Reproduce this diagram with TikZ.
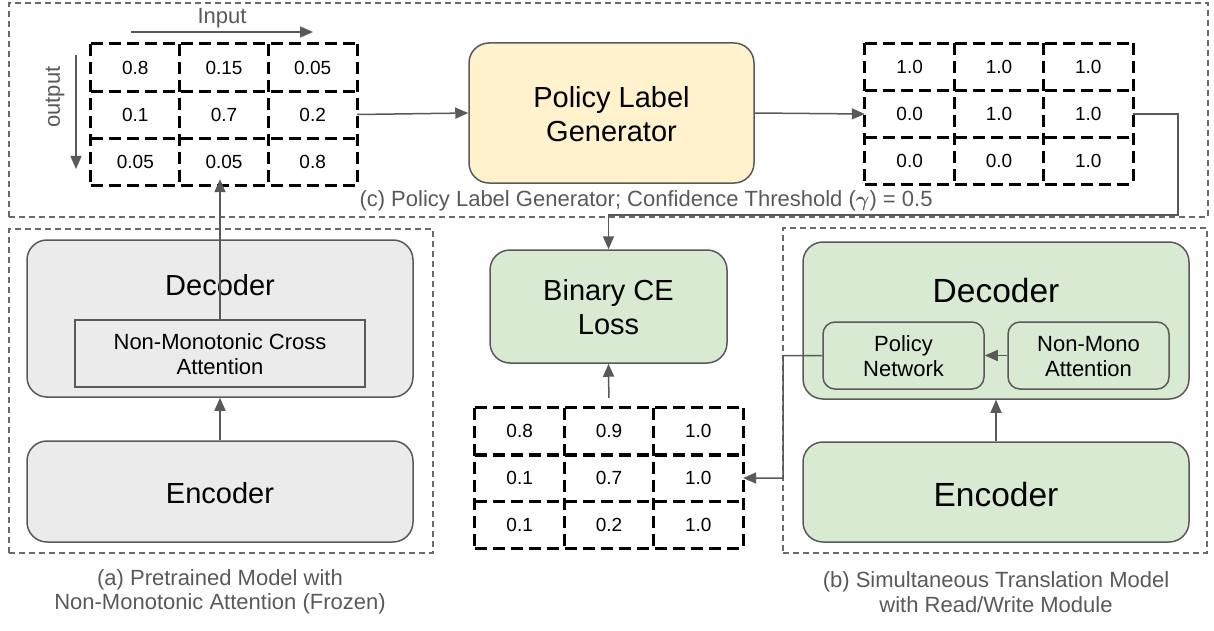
\documentclass[tikz,border=0pt]{standalone}
\usepackage{fontspec}
\setmainfont{Liberation Sans}
\usepackage{bm}
\usetikzlibrary{arrows.meta}
\definecolor{edge}{HTML}{595959}
\definecolor{grayfill}{HTML}{EBEBEB}
\definecolor{greenfill}{HTML}{D9EAD3}
\definecolor{yellowfill}{HTML}{FFF2CC}
\definecolor{capgray}{HTML}{595959}
\definecolor{dashgray}{HTML}{6A6A6A}

\newcommand\mygrid[6]{%
  \foreach \v [count=\i from 0] in {#6} {%
    \pgfmathtruncatemacro\rr{(\i+0.5)/3}%
    \pgfmathtruncatemacro\cc{mod(\i,3)}%
    \node[cell, minimum width=#4pt, minimum height=#5pt] (#1-\rr-\cc)
      at ({#2+(\cc+0.5)*#4},{#3+(\rr+0.5)*#5}) {\v};
  }%
  \draw[gridline] (#1-0-0.north west) -- (#1-0-2.north east);
  \foreach \r in {0,1,2} {\draw[gridline] (#1-\r-0.south west) -- (#1-\r-2.south east);}
  \draw[gridline] (#1-0-0.north west) -- (#1-2-0.south west);
  \foreach \c in {0,1,2} {\draw[gridline] (#1-0-\c.north east) -- (#1-2-\c.south east);}
}

\begin{document}
\begin{tikzpicture}[x=1pt,y=-1pt,
  panel/.style={draw=dashgray, line width=1.3pt, dash pattern=on 6pt off 4pt, inner sep=0pt},
  box/.style={draw=edge, line width=1.5pt, rounded corners=20pt, inner sep=0pt, align=center},
  subbox/.style={draw=edge, line width=1.5pt, inner sep=0pt, align=center, font=\fontsize{22}{25}\selectfont},
  cell/.style={draw=none, inner sep=0pt, font=\fontsize{19}{22}\selectfont},
  gridline/.style={draw=black, line width=3.2pt, dash pattern=on 12pt off 6pt, line cap=butt},
  bigtxt/.style={font=\fontsize{29}{34}\selectfont, inner sep=0pt, align=center},
  hugetxt/.style={font=\fontsize{33.5}{38}\selectfont, inner sep=0pt},
  captxt/.style={font=\fontsize{22}{24.5}\selectfont, text=capgray, align=center, inner sep=0pt},
  arr/.style={draw=edge, line width=1.5pt, -{Triangle[length=13pt,width=11pt]}},
  line/.style={draw=edge, line width=1.5pt}
]
\useasboundingbox (0,0) rectangle (1214,631);

% panels
\node[panel, minimum width=1199pt, minimum height=214pt] (pc) at (608.5,110) {};
\node[panel, minimum width=424pt, minimum height=324pt] (pa) at (221,391) {};
\node[panel, minimum width=424pt, minimum height=325pt] (pb) at (995,390.5) {};

% top-left matrix
\mygrid{mL}{91}{44}{88.67}{47}{0.8,0.15,0.05,0.1,0.7,0.2,0.05,0.05,0.8}
% top-right matrix
\mygrid{mR}{865}{43.5}{89.3}{47}{1.0,1.0,1.0,0.0,1.0,1.0,0.0,0.0,1.0}
% bottom matrix
\mygrid{mB}{475}{408}{89.3}{46.7}{0.8,0.9,1.0,0.1,0.7,1.0,0.1,0.2,1.0}

% input / output labels
\node[captxt] (inlab) at (222,18) {Input};
\coordinate (inS) at (131,32);
\coordinate (inE) at (313,32);
\draw[arr] (inS) -- (inE);
\node[captxt, rotate=90] (outlab) at (55,97) {output};
\coordinate (outS) at (76,55);
\coordinate (outE) at (76,169);
\draw[arr] (outS) -- (outE);

% policy label generator
\node[box, fill=yellowfill, minimum width=285pt, minimum height=140pt] (plg) at (611.5,113) {};
\node[bigtxt] (plgt) at (611.5,114.5) {Policy Label\\Generator};
\node[captxt] (capc) at (646,201) {(c) Policy Label Generator; Confidence Threshold ($\bm{\gamma}$) = 0.5};

% binary CE loss
\node[box, fill=greenfill, minimum width=237pt, minimum height=113pt] (bce) at (608.5,306.5) {};
\node[bigtxt] (bcet) at (608.5,307.5) {Binary CE\\Loss};

% left model
\node[box, fill=grayfill, minimum width=386pt, minimum height=157pt] (decL) at (220,318.5) {};
\node[bigtxt] (decLt) at (220,285) {Decoder};
\node[subbox, fill=grayfill, minimum width=290pt, minimum height=67pt] (attL) at (220,353.5) {};
\node[subbox, draw=none] (attLt) at (220,354.5) {Non-Monotonic Cross\\Attention};
\node[box, fill=grayfill, minimum width=386pt, minimum height=101pt] (encL) at (220,491.5) {};
\node[bigtxt] (encLt) at (220,493) {Encoder};

% right model
\node[box, fill=greenfill, minimum width=386pt, minimum height=157pt] (decR) at (996,320.5) {};
\node[hugetxt] (decRt) at (996,291) {Decoder};
\node[subbox, fill=greenfill, rounded corners=12pt, minimum width=161pt, minimum height=67pt] (pol) at (903.5,355.5) {};
\node[subbox, draw=none] (polt) at (903.5,356.5) {Policy\\Network};
\node[subbox, fill=greenfill, rounded corners=12pt, minimum width=161pt, minimum height=67pt] (nm) at (1088.5,355.5) {};
\node[subbox, draw=none] (nmt) at (1088.5,356.5) {Non-Mono\\Attention};
\node[box, fill=greenfill, minimum width=386pt, minimum height=100pt] (encR) at (996,492) {};
\node[hugetxt] (encRt) at (996,495) {Encoder};

% captions
\node[captxt] (capa) at (220,592) {(a) Pretrained Model with\\Non-Monotonic Attention (Frozen)};
\node[captxt] (capb) at (996,592) {(b) Simultaneous Translation Model\\with Read/Write Module};

% connectors
\draw[arr] (encL.north) -- (decL.south);
\draw[arr] (encR.north) -- (decR.south);
\draw[arr, shorten >=-6pt] (attL.north) -- (attL.north |- mL-2-1.south);
\draw[arr] (mL-1-2.east) -- (plg.west);
\draw[arr] (plg.east) -- (mR-1-0.west);
\coordinate (tR) at (1178,215);
\draw[arr] (mR-1-2.east) -| (tR) -| (bce.north);
\draw[arr, shorten <=10pt] (mB-0-1.north) -- (bce.south);
\draw[arr] (nm.west) -- (pol.east);
\coordinate (rW) at (783,478);
\draw[arr] (pol.west) -| (rW) -- (mB-1-2.east);
\end{tikzpicture}
\end{document}
